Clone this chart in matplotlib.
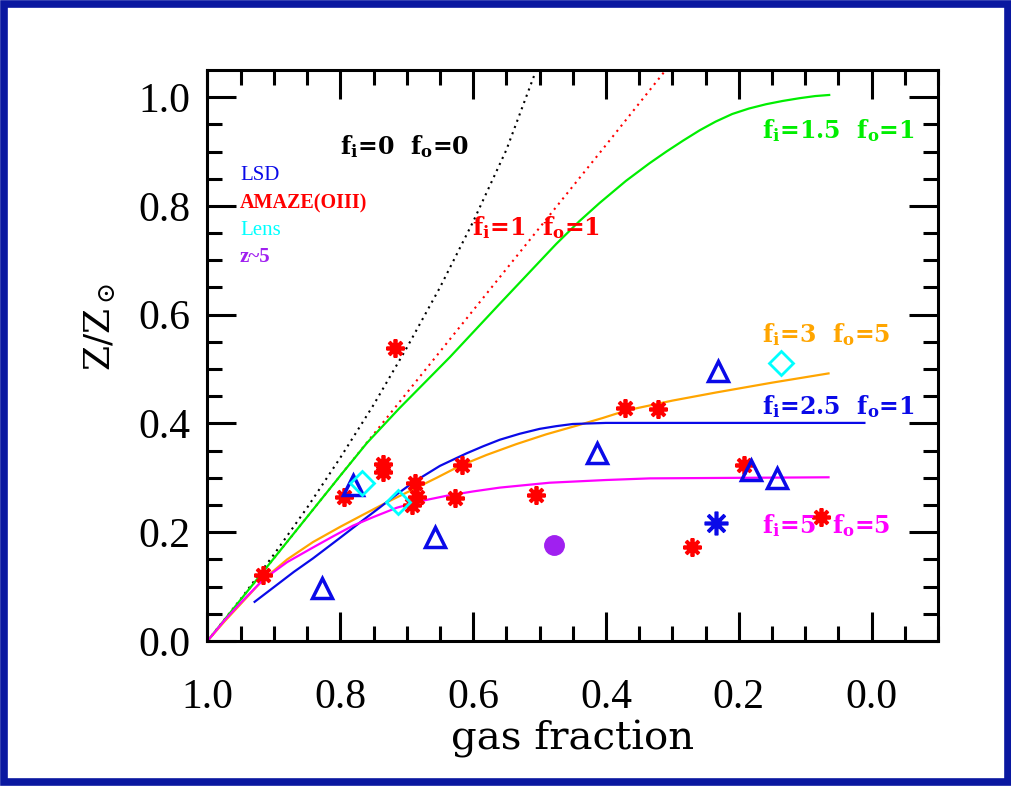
import numpy as np
import matplotlib
matplotlib.use('Agg')
import matplotlib.pyplot as plt
from matplotlib.patches import Rectangle

plt.rcParams['font.family'] = ['Liberation Serif', 'DejaVu Serif']
plt.rcParams['mathtext.fontset'] = 'dejavuserif'

# model curves
closed_x = [1.0, 0.95, 0.9, 0.85, 0.8, 0.75, 0.7, 0.65, 0.6, 0.55, 0.505]
closed_y = [0.0, 0.077, 0.159, 0.245, 0.337, 0.434, 0.539, 0.650, 0.771, 0.903, 1.05]

f11_x = [1.0, 0.9, 0.8, 0.7, 0.6, 0.5, 0.4, 0.31]
f11_y = [0.0, 0.152, 0.304, 0.456, 0.608, 0.76, 0.912, 1.05]

f151_x = [1.0, 0.9, 0.8, 0.76, 0.711, 0.635, 0.56, 0.475, 0.44, 0.41, 0.37, 0.335,
          0.309, 0.284, 0.259, 0.235, 0.21, 0.185, 0.159, 0.134, 0.109, 0.085, 0.064]
f151_y = [0.0, 0.152, 0.304, 0.364, 0.428, 0.522, 0.62, 0.73, 0.772, 0.805, 0.846, 0.878,
          0.90, 0.92, 0.939, 0.955, 0.969, 0.979, 0.987, 0.993, 0.998, 1.002, 1.004]

f35_x = [1.0, 0.975, 0.95, 0.916, 0.88, 0.841, 0.80, 0.766, 0.73, 0.69, 0.655, 0.62,
         0.58, 0.535, 0.49, 0.444, 0.405, 0.369, 0.30, 0.234, 0.15, 0.065]
f35_y = [0.0, 0.035, 0.068, 0.113, 0.15, 0.182, 0.21, 0.232, 0.255, 0.279, 0.30, 0.322,
         0.342, 0.362, 0.38, 0.396, 0.41, 0.424, 0.442, 0.457, 0.475, 0.492]

f251_x = [0.929, 0.90, 0.87, 0.841, 0.80, 0.766, 0.74, 0.72, 0.69, 0.65, 0.61, 0.585,
          0.56, 0.53, 0.50, 0.475, 0.45, 0.425, 0.40, 0.011]
f251_y = [0.072, 0.099, 0.127, 0.152, 0.19, 0.222, 0.246, 0.265, 0.292, 0.322, 0.345, 0.358,
          0.37, 0.381, 0.39, 0.395, 0.399, 0.40, 0.401, 0.401]

f55_x = [1.0, 0.975, 0.95, 0.916, 0.88, 0.841, 0.81, 0.781, 0.75, 0.715, 0.68, 0.64,
         0.60, 0.56, 0.485, 0.40, 0.334, 0.20, 0.065]
f55_y = [0.0, 0.037, 0.07, 0.113, 0.145, 0.172, 0.193, 0.212, 0.228, 0.245, 0.257, 0.267,
         0.275, 0.282, 0.291, 0.296, 0.299, 0.300, 0.301]

# observations
amaze_x = [0.917, 0.795, 0.735, 0.735, 0.718, 0.688, 0.684, 0.692, 0.628, 0.617, 0.505, 0.371, 0.321, 0.271, 0.192, 0.076]
amaze_y = [0.121, 0.264, 0.325, 0.31, 0.538, 0.29, 0.264, 0.25, 0.262, 0.323, 0.268, 0.428, 0.426, 0.173, 0.323, 0.228]

lsd_x = [0.828, 0.781, 0.658, 0.413, 0.232, 0.181, 0.142]
lsd_y = [0.097, 0.286, 0.191, 0.345, 0.497, 0.314, 0.299]

lsd_star_x = [0.235]
lsd_star_y = [0.217]

lens_x = [0.767, 0.713, 0.136]
lens_y = [0.29, 0.255, 0.512]

z5_x = [0.478]
z5_y = [0.176]

GREEN = '#00ee00'
ORANGE = '#ffa500'
BLUE = '#0a0ae8'
MAGENTA = '#ff00ff'
RED = '#ff0000'
CYAN = '#00ffff'
PURPLE = '#a020f0'

fig = plt.figure(figsize=(10.12, 7.86), dpi=100)
fig.patches.append(Rectangle((0.0035, 0.0045), 0.993, 0.991, transform=fig.transFigure,
                             fill=False, edgecolor='#0a18a0', linewidth=5.5))

ax = fig.add_axes([0.205, 0.1845, 0.722, 0.7265])

ax.plot(closed_x, closed_y, color='black', linestyle=(0, (1, 2.2)), linewidth=1.5)
ax.plot(f11_x, f11_y, color=RED, linestyle=(0, (1, 2.2)), linewidth=1.5)
ax.plot(f151_x, f151_y, color=GREEN, linewidth=1.6)
ax.plot(f35_x, f35_y, color=ORANGE, linewidth=1.6)
ax.plot(f251_x, f251_y, color=BLUE, linewidth=1.6)
ax.plot(f55_x, f55_y, color=MAGENTA, linewidth=1.6)

ax.plot(amaze_x, amaze_y, linestyle='none', marker=(8, 2, 0), markersize=13,
        markeredgewidth=2.7, color=RED)
ax.plot(lsd_x, lsd_y, linestyle='none', marker='^', markersize=15,
        markerfacecolor='none', markeredgewidth=2.5, markeredgecolor=BLUE)
ax.plot(lsd_star_x, lsd_star_y, linestyle='none', marker=(8, 2, 0), markersize=17,
        markeredgewidth=2.6, color=BLUE)
ax.plot(lens_x, lens_y, linestyle='none', marker='D', markersize=12,
        markerfacecolor='none', markeredgewidth=2, markeredgecolor=CYAN)
ax.plot(z5_x, z5_y, linestyle='none', marker='o', markersize=14, color=PURPLE)

ax.set_xlim(1.0, -0.1)
ax.set_ylim(0.0, 1.05)
ax.set_xticks([1.0, 0.8, 0.6, 0.4, 0.2, 0.0])
ax.set_xticks(np.arange(-0.1, 1.0, 0.05), minor=True)
ax.set_yticks([0.0, 0.2, 0.4, 0.6, 0.8, 1.0])
ax.set_yticks(np.arange(0.0, 1.05, 0.05), minor=True)
ax.set_xticklabels(['1.0', '0.8', '0.6', '0.4', '0.2', '0.0'])
ax.set_yticklabels(['0.0', '0.2', '0.4', '0.6', '0.8', '1.0'])
ax.tick_params(which='both', direction='in', top=True, right=True, width=2.2,
               labelsize=30)
ax.tick_params(axis='y', pad=12)
ax.tick_params(axis='x', pad=27)
ax.tick_params(which='major', length=21)
ax.tick_params(which='minor', length=10.5)
for s in ax.spines.values():
    s.set_linewidth(2.2)

ax.set_xlabel('gas fraction', fontsize=29, family='DejaVu Serif', labelpad=2)
ax.set_ylabel(r'Z/Z$_\odot$', fontsize=26, family='DejaVu Serif')
ax.yaxis.set_label_coords(-0.122, 0.55)

tk = dict(fontsize=17, fontweight='bold', family='DejaVu Serif', ha='left', va='baseline')
ax.text(0.80, 0.895, r'f$_\mathbf{i}$=0  f$_\mathbf{o}$=0', color='black', **tk)
ax.text(0.165, 0.925, r'f$_\mathbf{i}$=1.5  f$_\mathbf{o}$=1', color=GREEN, **tk)
ax.text(0.602, 0.747, r'f$_\mathbf{i}$=1  f$_\mathbf{o}$=1', color=RED, **tk)
ax.text(0.165, 0.549, r'f$_\mathbf{i}$=3  f$_\mathbf{o}$=5', color=ORANGE, **tk)
ax.text(0.165, 0.418, r'f$_\mathbf{i}$=2.5  f$_\mathbf{o}$=1', color=BLUE, **tk)
ax.text(0.165, 0.198, r'f$_\mathbf{i}$=5  f$_\mathbf{o}$=5', color=MAGENTA, **tk)

ax.text(0.951, 0.848, 'LSD', color=BLUE, fontsize=15, ha='left', va='baseline')
ax.text(0.951, 0.796, 'AMAZE(OIII)', color=RED, fontsize=14.5, fontweight='bold', ha='left', va='baseline')
ax.text(0.951, 0.747, 'Lens', color=CYAN, fontsize=15, ha='left', va='baseline')
ax.text(0.951, 0.697, 'z~5', color=PURPLE, fontsize=15, fontweight='bold', ha='left', va='baseline')

fig.savefig('out.png', dpi=100)
